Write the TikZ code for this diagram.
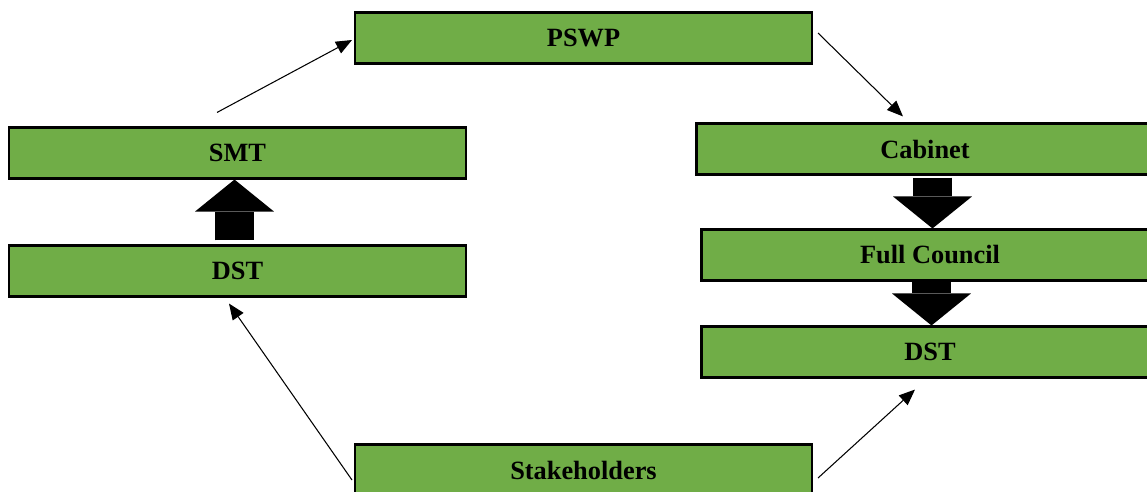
\documentclass[tikz,border=0pt]{standalone}
\usepackage{fontspec}
\setmainfont{Liberation Serif}
\usetikzlibrary{arrows.meta}
\definecolor{boxgreen}{RGB}{112,173,71}
\begin{document}
\begin{tikzpicture}[x=0.02cm,y=-0.02cm,
  box/.style={draw=black,line width=1.2pt,fill=boxgreen,minimum width=9.14cm,
    minimum height=1.02cm,inner sep=0pt,font=\fontsize{15}{18}\selectfont\bfseries},
  link/.style={line width=0.6pt,-{Triangle[length=0.32cm,width=0.26cm]}},
  bigarrow/.style={line width=0.78cm,-{Triangle[length=0.64cm,width=1.58cm,line width=0pt]}}]
\useasboundingbox (0,0) rectangle (1147,491);

% Boxes
\node[box] (pswp) at (583.5,38) {PSWP};
\node[box] (smt) at (237.5,153) {SMT};
\node[box] (dstl) at (237.5,271) {DST};
\node[box] (cabinet) at (925,149) {Cabinet};
\node[box] (council) at (930,255) {Full Council};
\node[box] (dstr) at (930,352) {DST};
\node[box] (stake) at (583.5,470) {Stakeholders};

% Block arrows
\draw[bigarrow] ([xshift=-0.06cm,yshift=0.08cm]dstl.north) -- ([xshift=-0.06cm]smt.south);
\draw[bigarrow] ([xshift=0.05cm,yshift=-0.04cm]cabinet.south -| council.north) -- ([xshift=0.05cm]council.north);
\draw[bigarrow] ([xshift=0.03cm]council.south) -- ([xshift=0.03cm]dstr.north);

% Cycle arrows
\draw[link] ([xshift=-0.41cm,yshift=0.28cm]smt.north) -- ([xshift=-0.04cm,yshift=-0.04cm]pswp.west);
\draw[link] ([xshift=0.1cm,yshift=0.1cm]pswp.east) -- ([xshift=-0.44cm,yshift=0.12cm]cabinet.north);
\draw[link] ([xshift=-0.04cm,yshift=-0.2cm]stake.west) -- ([xshift=-0.17cm,yshift=-0.12cm]dstl.south);
\draw[link] ([xshift=0.1cm,yshift=-0.16cm]stake.east) -- ([xshift=-0.3cm,yshift=-0.22cm]dstr.south);
\end{tikzpicture}
\end{document}
